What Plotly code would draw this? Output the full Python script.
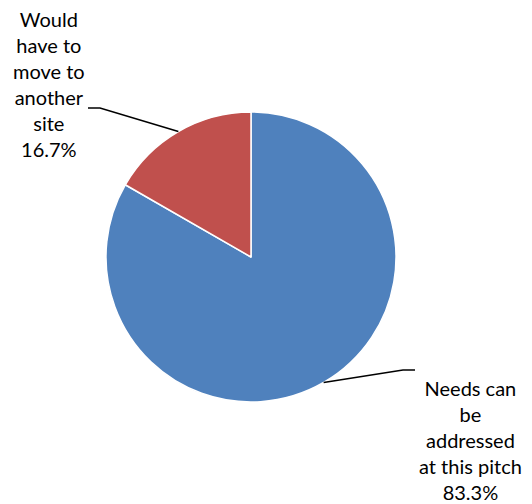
import math
import plotly.graph_objects as go

labels = ["Needs can be addressed at this pitch", "Would have to move to another site"]
label_text = ["Needs can<br>be<br>addressed<br>at this pitch", "Would<br>have to<br>move to<br>another<br>site"]
values = [83.3, 16.7]
colors = ["#4F81BD", "#C0504D"]

# page body has an 8px margin; work in window pixels and convert
OFF = 8
W, H = 532 - OFF, 504 - OFF
cx, cy, r = 251 - OFF, 257 - OFF, 145


def px(x):
    return (x - OFF) / W


def py(y):
    return 1 - (y - OFF) / H


fig = go.Figure(go.Pie(
    labels=labels, values=values, sort=False, direction="clockwise", rotation=0,
    marker=dict(colors=colors, line=dict(color="white", width=1.5)),
    textinfo="none", hoverinfo="label+percent", showlegend=False,
    domain=dict(x=[(cx - r) / W, (cx + r) / W], y=[(H - cy - r) / H, (H - cy + r) / H]),
))

# label positions and leader-line elbows (window px)
label_pos = [(470, 440), (49, 84)]
elbows = [((403, 370), (415, 370)), ((100, 108), (88, 108))]

total = sum(values)
cum = 0
shapes = []
annotations = []
for i, v in enumerate(values):
    mid = (cum + v / 2) / total * 2 * math.pi
    cum += v
    ex = cx + OFF + r * math.sin(mid)
    ey = cy + OFF - r * math.cos(mid)
    (bx, by), (hx, hy) = elbows[i]
    path = f"M {px(ex)},{py(ey)} L {px(bx)},{py(by)} L {px(hx)},{py(hy)}"
    shapes.append(dict(type="path", xref="paper", yref="paper", path=path,
                       line=dict(color="black", width=1.5)))
    pct = v / total * 100
    annotations.append(dict(
        x=px(label_pos[i][0]), y=py(label_pos[i][1]), xref="paper", yref="paper",
        xanchor="center", yanchor="middle", showarrow=False, align="center",
        text=f"{label_text[i]}<br>{pct:.1f}%",
        font=dict(family="Lato", size=20, color="black"),
    ))

fig.update_layout(width=W, height=H, margin=dict(l=0, r=0, t=0, b=0),
                  paper_bgcolor="white", plot_bgcolor="white",
                  shapes=shapes, annotations=annotations)
fig.write_html("out.html")
